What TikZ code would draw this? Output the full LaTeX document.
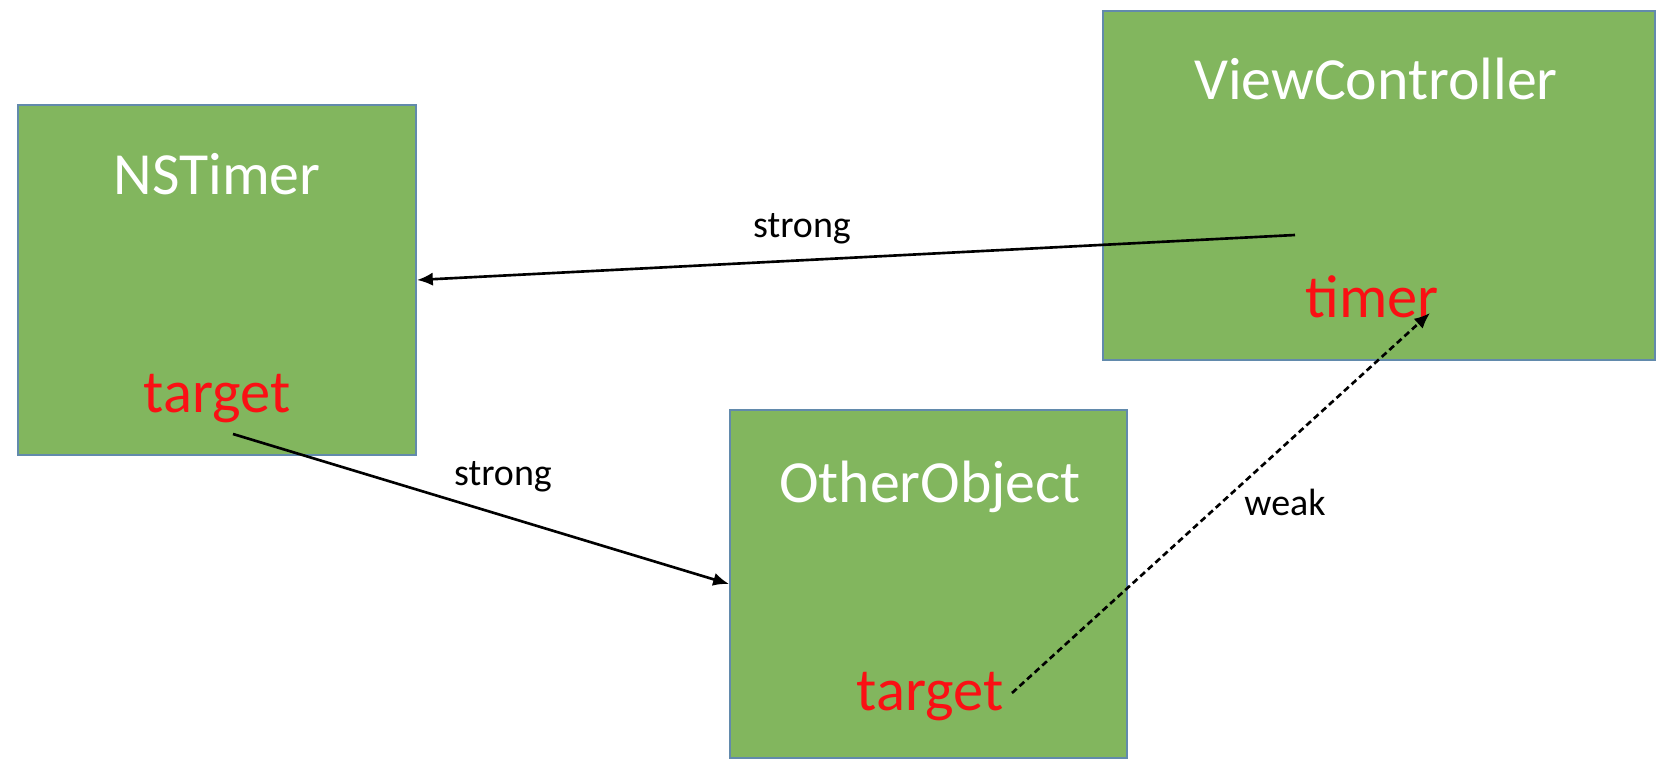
\documentclass[tikz,border=0pt]{standalone}
\usepackage{fontspec}
\setmainfont{Carlito}
\usetikzlibrary{arrows.meta}

\definecolor{boxgreen}{RGB}{130,182,94}
\definecolor{boxline}{RGB}{98,138,172}
\definecolor{refred}{RGB}{250,16,20}

\begin{document}
\begin{tikzpicture}[x=0.01cm,y=-0.01cm,every node/.style={inner sep=0pt}]
  \tikzset{
    object/.style={draw=boxline,fill=boxgreen,line width=0.5pt},
    title/.style={anchor=base,text=white,font=\fontsize{17}{20}\selectfont},
    field/.style={anchor=base,text=refred,font=\fontsize{17.2}{20}\selectfont},
    relation/.style={anchor=base,font=\fontsize{10.8}{13}\selectfont},
    ref/.style={line width=0.75pt,-{Latex[length=4.5pt,width=3.8pt]}}
  }
  \useasboundingbox (0,0) rectangle (1658,776);

  % objects
  \node[object,minimum width=3.98cm,minimum height=3.50cm] (timerobj) at (217,280) {};
  \node[object,minimum width=5.52cm,minimum height=3.49cm] (vc) at (1379,185.5) {};
  \node[object,minimum width=3.97cm,minimum height=3.48cm] (other) at (928.5,584) {};

  \node[title] (timertitle) at (217,195) {NSTimer};
  \node[title] (vctitle) at (1376,100) {ViewController};
  \node[title] (othertitle) at (930,502) {OtherObject};

  \node[field] (target1) at (217,412) {target};
  \node[field] (timer) at (1372,317) {timer};
  \node[field] (target2) at (930,710) {target};

  % connector ends
  \coordinate (vcstart) at (1295,235);
  \coordinate (t1start) at (233,434);
  \coordinate (t2start) at (1012,693);
  \coordinate (timerend) at (1430,313);

  \draw[ref] (vcstart) -- (timerobj.east);
  \draw[ref] (t1start) -- (other.west);
  \draw[ref,dash pattern=on 1.8pt off 1.1pt] (t2start) -- (timerend);

  \node[relation] (strong1) at (802,238) {strong};
  \node[relation] (strong2) at (503,485) {strong};
  \node[relation] (weak) at (1285,515) {weak};
\end{tikzpicture}
\end{document}
